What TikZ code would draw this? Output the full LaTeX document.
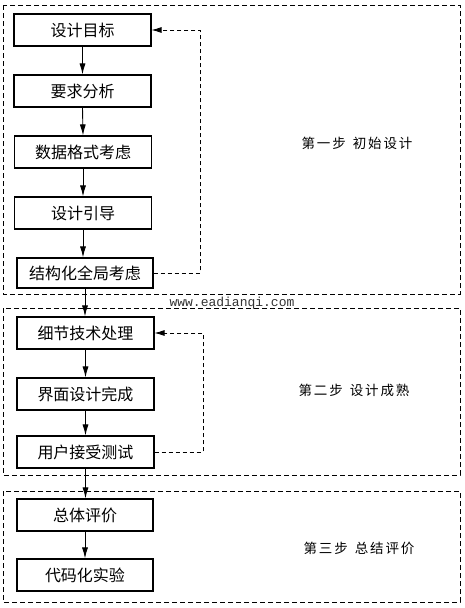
\documentclass[tikz,border=0pt]{standalone}
\usepackage{fontspec}
\usetikzlibrary{arrows.meta}
\newfontfamily\cjk{Noto Sans CJK SC}
\newfontfamily\cjklabel[LetterSpace=14]{Noto Sans CJK SC}
\newfontfamily\wmfont{Liberation Mono}
\tikzset{
  box/.style={draw, line width=1.1pt, minimum height=32pt, inner sep=0pt, font=\cjk\fontsize{16}{16}\selectfont},
  frame/.style={draw, line width=0.8pt, dash pattern=on 5pt off 3pt},
  fb/.style={draw, line width=0.8pt, dash pattern=on 4pt off 3pt, -{Latex[length=10pt,width=6pt]}},
  arr/.style={draw, line width=0.9pt, -{Latex[length=11pt,width=6pt]}},
  steplabel/.style={font=\cjklabel\fontsize{13.5}{13.5}\selectfont, inner sep=0pt}
}
\begin{document}
\begin{tikzpicture}[x=1pt,y=-1pt]
\useasboundingbox (0,0) rectangle (465,608);
% frames
\draw[frame] (3,5) rectangle (460,294);
\draw[frame] (3,308) rectangle (460,475);
\draw[frame] (3,491) rectangle (460,602);
% boxes
\node[box, minimum width=137pt] (b1) at (82.5,30) {设计目标};
\node[box, minimum width=137pt] (b2) at (82.5,91) {要求分析};
\node[box, minimum width=137pt] (b3) at (83,152) {数据格式考虑};
\node[box, minimum width=137pt] (b4) at (83,213) {设计引导};
\node[box, minimum width=136pt, minimum height=30pt] (b5) at (85,273) {结构化全局考虑};
\node[box, minimum width=137pt] (b6) at (85.5,333) {细节技术处理};
\node[box, minimum width=137pt] (b7) at (85.5,394) {界面设计完成};
\node[box, minimum width=137pt] (b8) at (85.5,452) {用户接受测试};
\node[box, minimum width=136pt] (b9) at (85,515) {总体评价};
\node[box, minimum width=136pt] (b10) at (85,575) {代码化实验};
% arrows
\draw[arr] (b1.south) -- (b2.north);
\draw[arr] (b2.south) -- (b3.north);
\draw[arr] (b3.south) -- (b4.north);
\draw[arr] (b4.south) -- (b4.south |- b5.north);
\draw[arr] (b5.south) -- (b5.south |- b6.north);
\draw[arr] (b6.south) -- (b7.north);
\draw[arr] (b7.south) -- (b8.north);
\draw[arr] (b8.south) -- (b8.south |- b9.north);
\draw[arr] (b9.south) -- (b10.north);
% feedback
\coordinate (f1) at (200,273);
\coordinate (f2) at (200,30);
\draw[fb] (b5.east) -- (f1) -- (f2) -- (b1.east);
\coordinate (g1) at (203,452);
\coordinate (g2) at (203,333);
\draw[fb] (b8.east) -- (g1) -- (g2) -- (b6.east);
% labels
\node[steplabel] (l1) at (357,143) {第一步\hspace{7pt}初始设计};
\node[steplabel] (l2) at (354,390) {第二步\hspace{7pt}设计成熟};
\node[steplabel] (l3) at (359,548) {第三步\hspace{7pt}总结评价};
\node[font=\wmfont\fontsize{13}{13}\selectfont, text=black!80, inner sep=0pt] (wm) at (232,303) {www.eadianqi.com};
\end{tikzpicture}
\end{document}
